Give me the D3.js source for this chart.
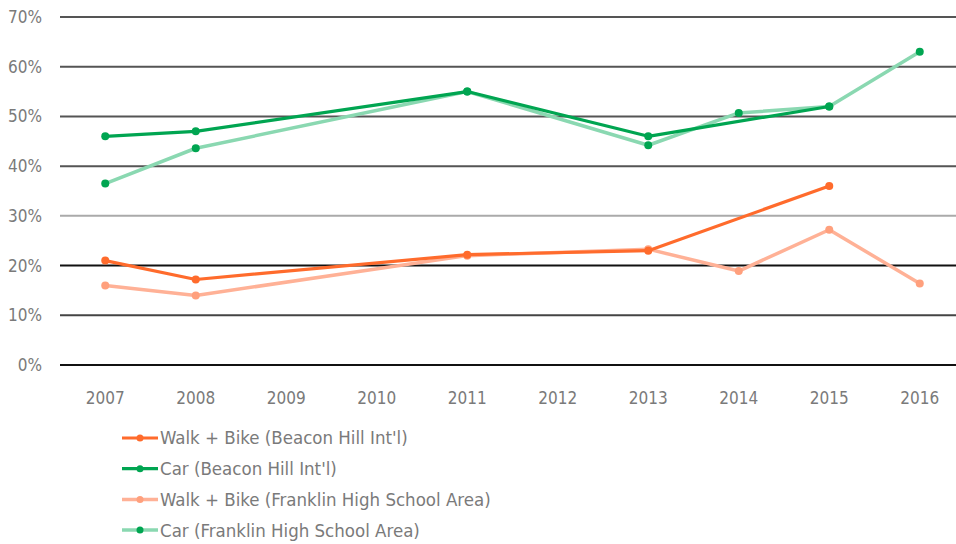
<!DOCTYPE html>
<html lang="en">
<head>
    <meta charset="utf-8" />
    <title>Mode share chart</title>
    <script src="https://d3js.org/d3.v7.min.js"></script>
    <style>
        body { margin: 0; background: #fff; }
        text { font-family: "DejaVu Sans Condensed", "Liberation Sans Narrow", "Roboto", sans-serif; fill: #7a7a7a; }
    </style>
</head>
<body>
    <script>
        var w = 956;
        var h = 544;

        var years = ["2007", "2008", "2009", "2010", "2011", "2012", "2013", "2014", "2015", "2016"];
        var yTicks = [0, 10, 20, 30, 40, 50, 60, 70];

        // null = no survey that year
        var walkBeacon = [21, 17.2, null, null, 22.2, null, 23, null, 36, null];
        var carBeacon = [46, 47, null, null, 55, null, 46, null, 52, null];
        var walkFranklin = [16, 14, null, null, 22, null, 23.3, 18.9, 27.2, 16.4];
        var carFranklin = [36.5, 43.6, null, null, 55, null, 44.2, 50.7, 52, 63];

        var seriesNames = [
            "Walk + Bike (Beacon Hill Int'l)",
            "Car (Beacon Hill Int'l)",
            "Walk + Bike (Franklin High School Area)",
            "Car (Franklin High School Area)"
        ];

        // drawn in this order: light lines first
        var series = [
            { name: seriesNames[2], values: walkFranklin, line: "#ffb196", dot: "#ffa07d", width: 3.5 },
            { name: seriesNames[3], values: carFranklin, line: "#8ad8b1", dot: "#00a551", width: 3.5 },
            { name: seriesNames[0], values: walkBeacon, line: "#ff6b2c", dot: "#ff6b2c", width: 3.2 },
            { name: seriesNames[1], values: carBeacon, line: "#00a551", dot: "#00a551", width: 3.2 }
        ];
        var legendOrder = [2, 3, 0, 1];

        var xScale = d3.scalePoint()
            .domain(years)
            .range([60, 965])
            .padding(0.5);

        var yScale = d3.scaleLinear()
            .domain([0, 70])
            .range([365, 17]);

        var gridColor = { 0: "#111", 10: "#444", 20: "#111", 30: "#aaa", 40: "#555", 50: "#555", 60: "#555", 70: "#555" };

        var svg = d3.select("body")
            .append("svg")
            .attr("width", w)
            .attr("height", h);

        // gridlines
        svg.selectAll("line.grid")
            .data(yTicks)
            .enter()
            .append("line")
            .attr("class", "grid")
            .attr("x1", 60)
            .attr("x2", w)
            .attr("y1", function (d) { return yScale(d); })
            .attr("y2", function (d) { return yScale(d); })
            .attr("stroke", function (d) { return gridColor[d]; })
            .attr("stroke-width", 2);

        // y labels
        svg.selectAll("text.ylab")
            .data(yTicks)
            .enter()
            .append("text")
            .attr("class", "ylab")
            .attr("x", 42)
            .attr("y", function (d) { return yScale(d); })
            .attr("dy", "0.35em")
            .attr("text-anchor", "end")
            .attr("font-size", "17px")
            .text(function (d) { return d + "%"; });

        // x labels
        svg.selectAll("text.xlab")
            .data(years)
            .enter()
            .append("text")
            .attr("class", "xlab")
            .attr("x", function (d) { return xScale(d); })
            .attr("y", 404)
            .attr("text-anchor", "middle")
            .attr("font-size", "17px")
            .text(function (d) { return d; });

        var line = d3.line()
            .defined(function (d) { return d.v !== null; })
            .x(function (d) { return xScale(d.year); })
            .y(function (d) { return yScale(d.v); });

        series.forEach(function (s) {
            var pts = s.values.map(function (v, i) { return { year: years[i], v: v }; })
                .filter(function (d) { return d.v !== null; });

            svg.append("path")
                .datum(pts)
                .attr("fill", "none")
                .attr("stroke", s.line)
                .attr("stroke-width", s.width)
                .attr("stroke-linejoin", "round")
                .attr("d", line);

            svg.append("g")
                .selectAll("circle")
                .data(pts)
                .enter()
                .append("circle")
                .attr("cx", function (d) { return xScale(d.year); })
                .attr("cy", function (d) { return yScale(d.v); })
                .attr("r", 4)
                .attr("fill", s.dot);
        });

        // legend
        var legend = svg.append("g");
        legendOrder.forEach(function (idx, row) {
            var s = series[idx];
            var y = 438 + row * 30.7;
            legend.append("line")
                .attr("x1", 122).attr("x2", 158)
                .attr("y1", y).attr("y2", y)
                .attr("stroke", s.line)
                .attr("stroke-width", s.width);
            legend.append("circle")
                .attr("cx", 140).attr("cy", y).attr("r", 3.5)
                .attr("fill", s.dot);
            legend.append("text")
                .attr("x", 160)
                .attr("y", y)
                .attr("dy", "0.35em")
                .attr("font-size", "18.5px")
                .text(s.name);
        });
    </script>
</body>
</html>
